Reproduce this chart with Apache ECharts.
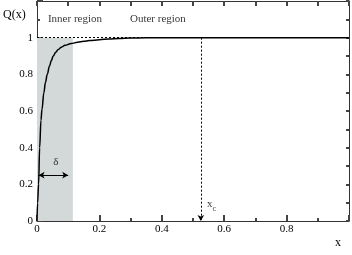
<!DOCTYPE html>
<html><head><meta charset="utf-8">
<script src="https://cdn.jsdelivr.net/npm/echarts@6/dist/echarts.min.js"></script>
<style>html,body{margin:0;padding:0;background:#fff}#c{width:352px;height:255px}</style>
</head><body><div id="c"></div>
<script>
var xs = [0, 0.002, 0.005, 0.0085, 0.0127, 0.016, 0.022, 0.027, 0.033, 0.04, 0.046, 0.052, 0.06, 0.068, 0.078, 0.09, 0.11, 0.13, 0.15, 0.168, 0.2, 0.23, 0.263, 0.3, 0.35, 0.42, 0.5, 0.7, 1.0];
var qs = [0, 0.1, 0.2, 0.4, 0.55, 0.61, 0.7, 0.755, 0.8, 0.845, 0.875, 0.9, 0.92, 0.935, 0.948, 0.958, 0.968, 0.975, 0.98, 0.984, 0.989, 0.993, 0.996, 0.998, 0.999, 1, 1, 1, 1];
var xTickLabels = ['0', '0.2', '0.4', '0.6', '0.8'];
var yTickLabels = ['0', '0.2', '0.4', '0.6', '0.8', '1'];
var innerEdge = 0.115;   // width of shaded inner region
var xc = 0.525;          // critical x
var deltaArrow = [0.005, 0.1, 0.25];
var notes = [
  {text: 'Inner region', x: 0.035, y: 1.1},
  {text: 'Outer region', x: 0.298, y: 1.1},
  {text: 'δ', x: 0.052, y: 0.32},
  {text: '{a|x}{b|c}', x: 0.545, y: 0.09}
];

var serif = 'Liberation Serif';
var axisCol = '#333';
var tickCol = '#444';
var chart = echarts.init(document.getElementById('c'));
function fmt(list){ return function(v){ var s = String(Math.round(v*10)/10); return list.indexOf(s) >= 0 ? s : ''; }; }
function tickAxis(extra, len, showLine){
  var base = {
    type: 'value', min: 0,
    axisLine: {show: showLine, onZero: false, lineStyle: {color: axisCol, width: 1}},
    axisTick: {show: true, inside: true, length: len, lineStyle: {color: tickCol, width: 2}},
    splitLine: {show: false}, axisLabel: {show: false}
  };
  for (var k in extra) base[k] = extra[k];
  return base;
}

chart.setOption({
  animation: false,
  grid: {left: 37, right: 1, top: 1, bottom: 34},
  xAxis: [
    tickAxis({max: 1, interval: 0.2, position: 'bottom',
      axisLabel: {formatter: fmt(xTickLabels), color: '#000', fontFamily: serif, fontSize: 11, margin: 3}}, 6, true),
    tickAxis({max: 1, interval: 0.1, position: 'top'}, 5, true),
    tickAxis({max: 1, interval: 0.1, position: 'bottom'}, 3, false)
  ],
  yAxis: [
    tickAxis({max: 1.2, interval: 0.2, position: 'left',
      axisLabel: {formatter: fmt(yTickLabels), color: '#000', fontFamily: serif, fontSize: 11, margin: 4}}, 6, true),
    tickAxis({max: 1.2, interval: 0.1, position: 'right'}, 3, true),
    tickAxis({max: 1.2, interval: 0.1, position: 'left'}, 3, false)
  ],
  graphic: [
    {type: 'text', left: 3, top: 9, style: {text: 'Q(x)', font: '12px "Liberation Serif"', fill: '#000'}},
    {type: 'text', left: 335, top: 237, style: {text: 'x', font: '12px "Liberation Serif"', fill: '#000'}}
  ],
  series: [{
    type: 'line', data: xs.map(function(x, i){ return [x, qs[i]]; }),
    smooth: 0.4, smoothMonotone: 'x', symbol: 'none',
    lineStyle: {color: '#000', width: 1.5}, z: 5,
    markArea: {silent: true, itemStyle: {color: '#d3d9d9'}, data: [[{coord: [0, 0]}, {coord: [innerEdge, 1]}]]},
    markLine: {
      silent: true, symbol: 'none', label: {show: false},
      data: [
        [{coord: [0, 1], lineStyle: {type: [2, 2], color: '#000', width: 1}}, {coord: [1, 1]}],
        [{coord: [xc, 1], symbol: 'none', lineStyle: {type: [2, 2], color: '#000', width: 1}}, {coord: [xc, 0], symbol: 'arrow', symbolSize: [5, 6]}],
        [{coord: [deltaArrow[0], deltaArrow[2]], symbol: 'arrow', symbolSize: [5, 6], lineStyle: {type: 'solid', color: '#000', width: 1}}, {coord: [deltaArrow[1], deltaArrow[2]], symbol: 'arrow', symbolSize: [5, 6]}]
      ]
    }
  }, {
    type: 'scatter', symbolSize: 0, silent: true,
    data: notes.map(function(n){ return {value: [n.x, n.y], label: {formatter: n.text}}; }),
    label: {show: true, position: 'right', distance: 0, color: '#000', fontFamily: serif, fontSize: 11,
      rich: {a: {fontFamily: serif, fontSize: 11, color: '#000'}, b: {fontFamily: serif, fontSize: 8, color: '#000', padding: [8, 0, 0, 0]}}}
  }]
});
</script></body></html>
